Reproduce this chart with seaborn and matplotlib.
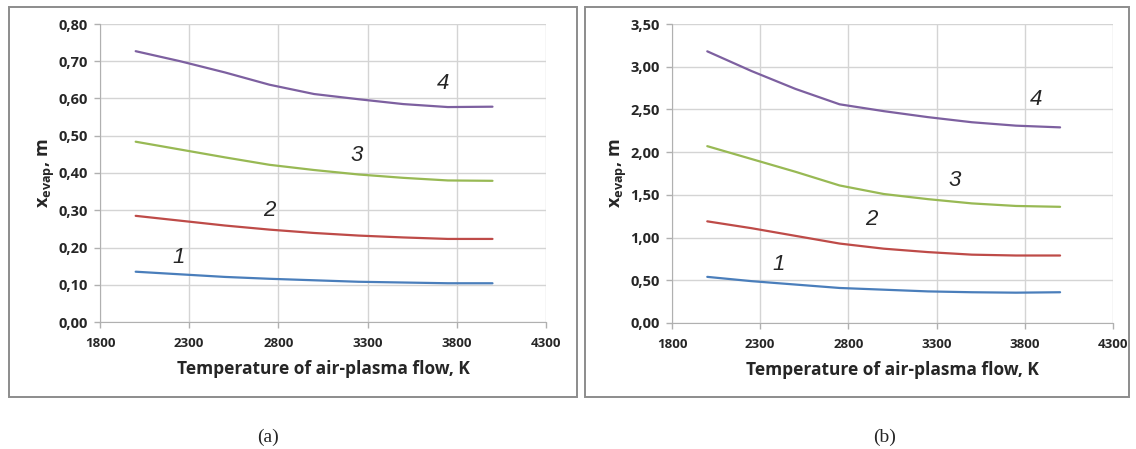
import pandas as pd
import numpy as np
from matplotlib import pyplot as plt
from matplotlib.patches import Rectangle
import seaborn as sns

# Datos
temperatura = [2000, 2250, 2500, 2750, 3000, 3250, 3500, 3750, 4000]

# Panel (a)
a_curva1 = [0.135, 0.128, 0.121, 0.116, 0.112, 0.108, 0.106, 0.104, 0.104]
a_curva2 = [0.285, 0.272, 0.259, 0.248, 0.239, 0.232, 0.227, 0.223, 0.223]
a_curva3 = [0.484, 0.463, 0.442, 0.422, 0.408, 0.396, 0.387, 0.380, 0.379]
a_curva4 = [0.727, 0.700, 0.670, 0.637, 0.612, 0.598, 0.585, 0.577, 0.578]

# Panel (b)
b_curva1 = [0.54, 0.49, 0.45, 0.41, 0.39, 0.37, 0.36, 0.355, 0.36]
b_curva2 = [1.19, 1.11, 1.02, 0.93, 0.87, 0.83, 0.80, 0.79, 0.79]
b_curva3 = [2.07, 1.92, 1.77, 1.61, 1.51, 1.45, 1.40, 1.37, 1.36]
b_curva4 = [3.18, 2.95, 2.74, 2.56, 2.48, 2.41, 2.35, 2.31, 2.29]

etiquetas = ['1', '2', '3', '4']
colores = ['#4a7ebb', '#be4b48', '#98b954', '#7d60a0']

# posiciones de los numeros de curva (x, y)
a_pos_etiquetas = [(2240, 0.172), (2750, 0.300), (3240, 0.447), (3724, 0.639)]
b_pos_etiquetas = [(2403, 0.68), (2928, 1.21), (3401, 1.67), (3866, 2.62)]

x_ticks = [1800, 2300, 2800, 3300, 3800, 4300]


def armar_df(curvas):
    filas = []
    for etiqueta, valores in zip(etiquetas, curvas):
        for t, v in zip(temperatura, valores):
            filas.append({'T': t, 'x': v, 'curva': etiqueta})
    return pd.DataFrame(filas)


sns.set_style('white')
plt.rcParams['font.family'] = ['Open Sans', 'DejaVu Sans']
plt.rcParams['mathtext.fontset'] = 'custom'
plt.rcParams['mathtext.bf'] = 'Open Sans:bold'
plt.rcParams['mathtext.rm'] = 'Open Sans:bold'
plt.rcParams['mathtext.it'] = 'Open Sans:bold'

W, H = 1136, 449
fig = plt.figure(figsize=(11.36, 4.49), dpi=100)
ax_a = fig.add_axes([100 / W, 1 - 322 / H, 446 / W, 298 / H])
ax_b = fig.add_axes([672 / W, 1 - 323 / H, 441 / W, 299 / H])


def dibujar_panel(ax, curvas, y_max, y_paso, pos_etiquetas):
    df = armar_df(curvas)
    sns.lineplot(data=df, x='T', y='x', hue='curva', palette=colores,
                 linewidth=1.6, legend=False, ax=ax)
    ax.set_xlim(1800, 4300)
    ax.set_ylim(0, y_max)
    ax.set_xticks(x_ticks)
    ax.set_yticks(np.arange(0, y_max + y_paso / 2, y_paso))
    ax.set_yticklabels([f'{v:.2f}'.replace('.', ',') for v in ax.get_yticks()])
    ax.grid(True, color='#d4d4d4', linewidth=1.0)
    for lado in ['top', 'right']:
        ax.spines[lado].set_visible(False)
    for lado in ['left', 'bottom']:
        ax.spines[lado].set_color('#b0b0b0')
    ax.tick_params(axis='both', direction='out', length=4, width=1,
                   color='#b0b0b0', left=True, bottom=True)
    ax.tick_params(axis='y', labelsize=10.5, pad=5)
    ax.tick_params(axis='x', labelsize=9.5, pad=7)
    for lbl in ax.get_xticklabels() + ax.get_yticklabels():
        lbl.set_fontweight('bold')
    ax.set_xlabel('Temperature of air-plasma flow, K', fontsize=12.5,
                  fontweight='bold', labelpad=7)
    ax.set_ylabel(r'$\mathbf{x_{evap}}$, m', fontsize=13, fontweight='bold',
                  labelpad=1)
    for etiqueta, (px, py) in zip(etiquetas, pos_etiquetas):
        ax.text(px, py, etiqueta, fontsize=16, style='italic',
                ha='center', va='center', family=['Liberation Sans'])


dibujar_panel(ax_a, [a_curva1, a_curva2, a_curva3, a_curva4], 0.80, 0.10,
              a_pos_etiquetas)
dibujar_panel(ax_b, [b_curva1, b_curva2, b_curva3, b_curva4], 3.50, 0.50,
              b_pos_etiquetas)

# marcos de cada panel
for x0, x1, y0, y1 in [(9, 577, 7, 397), (585, 1129, 7, 397)]:
    fig.patches.append(Rectangle((x0 / W, 1 - y1 / H), (x1 - x0) / W,
                                 (y1 - y0) / H, transform=fig.transFigure,
                                 fill=False, edgecolor='#8c8c8c', linewidth=1.4))

fig.text(268 / W, 1 - 437 / H, '(a)', fontsize=14, ha='center', va='center',
         family=['Liberation Serif'])
fig.text(885 / W, 1 - 437 / H, '(b)', fontsize=14, ha='center', va='center',
         family=['Liberation Serif'])

plt.savefig('out.png', dpi=100)
plt.close()
